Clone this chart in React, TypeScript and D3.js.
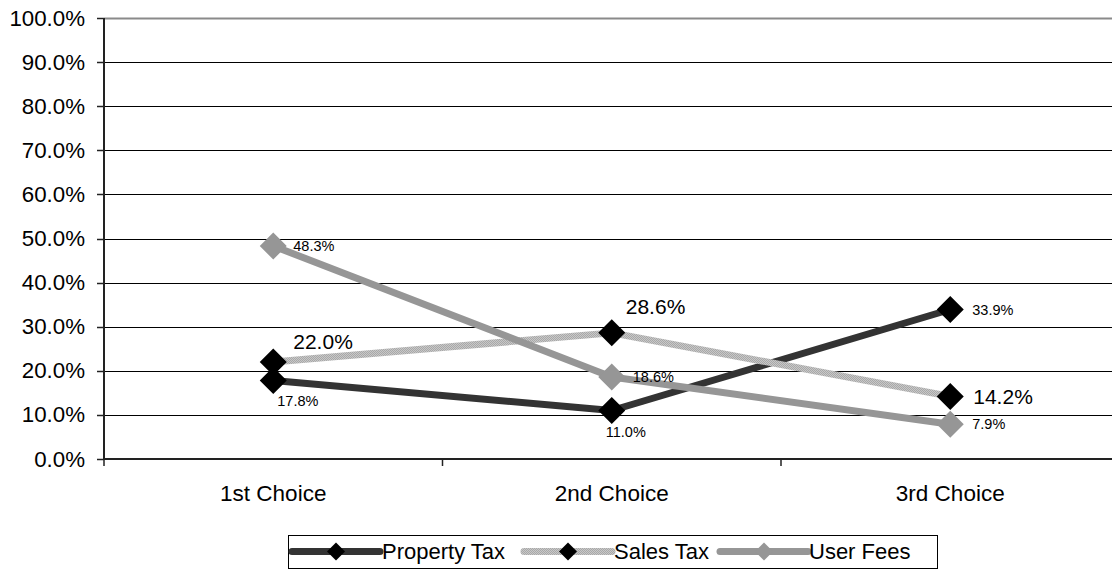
import React from "react";
import * as d3 from "d3";

const categories = ["1st Choice", "2nd Choice", "3rd Choice"];
const propertyTax = [17.8, 11.0, 33.9];
const salesTax = [22.0, 28.6, 14.2];
const userFees = [48.3, 18.6, 7.9];
const yTicks = [0, 10, 20, 30, 40, 50, 60, 70, 80, 90, 100];
const seriesNames = ["Property Tax", "Sales Tax", "User Fees"];

// label offsets relative to marker (dx = start of text, dy = vertical center)
const labelOffsets = [
  [[4, 20], [-6, 22], [22, 0]],
  [[20, -20], [14, -26], [23, 0]],
  [[20, 0], [21, 0], [22, 0]],
];

const W = 1112;
const H = 571;
const FONT = "'Liberation Sans', Arial, sans-serif";

export default function App() {
  const left = 104;
  const step = 338.5;
  const x = d3
    .scaleBand<string>()
    .domain(categories)
    .range([left, left + step * categories.length])
    .paddingInner(0)
    .paddingOuter(0);
  const y = d3.scaleLinear().domain([0, 100]).range([459, 18]);
  const cx = (c: string) => (x(c) as number) + x.bandwidth() / 2;

  const series = [
    { name: seriesNames[0], values: propertyTax, stroke: "#333333", marker: "#000000", fontSize: 14.5 },
    { name: seriesNames[1], values: salesTax, stroke: "url(#stPattern)", marker: "#000000", fontSize: 21 },
    { name: seriesNames[2], values: userFees, stroke: "#969696", marker: "#969696", fontSize: 14.5 },
  ];

  const line = d3
    .line<number>()
    .x((_, i) => cx(categories[i]))
    .y((d) => y(d));

  const diamond = (px: number, py: number, r: number) =>
    `M${px},${py - r}L${px + r},${py}L${px},${py + r}L${px - r},${py}Z`;

  const legendItems = [
    { sx: 292, tx: 382 },
    { sx: 524, tx: 614 },
    { sx: 720, tx: 809 },
  ];
  const legendY = 551.5;

  return (
    <svg width={W} height={H} style={{ position: "absolute", left: 0, top: 0, background: "#fff" }} fontFamily={FONT}>
      <defs>
        <pattern id="stPattern" patternUnits="userSpaceOnUse" width="2" height="2">
          <rect width="2" height="2" fill="#c8c8c8" />
          <rect width="1" height="1" fill="#a8a8a8" />
          <rect x="1" y="1" width="1" height="1" fill="#a8a8a8" />
        </pattern>
      </defs>
      <rect x={0} y={0} width={W} height={H} fill="#fff" />
      {/* gridlines */}
      {yTicks.slice(1).map((t) => (
        <line
          key={t}
          x1={left}
          x2={W}
          y1={Math.round(y(t)) + 0.5}
          y2={Math.round(y(t)) + 0.5}
          stroke={t === 100 ? "#8a8a8a" : "#000"}
          strokeWidth={t === 100 ? 2 : 1}
        />
      ))}
      {/* y axis */}
      <line x1={left} x2={left} y1={y(100)} y2={y(0)} stroke="#222" strokeWidth={2} />
      {yTicks.map((t) => (
        <g key={t}>
          <line x1={97} x2={left} y1={Math.round(y(t)) + 0.5} y2={Math.round(y(t)) + 0.5} stroke="#222" strokeWidth={1.5} />
          <text x={85} y={y(t)} textAnchor="end" dominantBaseline="central" fontSize={22.3} fill="#000">
            {t.toFixed(1)}%
          </text>
        </g>
      ))}
      {/* x axis */}
      <line x1={left} x2={W} y1={y(0)} y2={y(0)} stroke="#222" strokeWidth={2} />
      {categories.map((c, i) => (
        <line key={"t" + i} x1={(x(c) as number)} x2={(x(c) as number)} y1={y(0)} y2={466} stroke="#222" strokeWidth={1.5} />
      ))}
      {categories.map((c) => (
        <text key={c} x={cx(c)} y={493} textAnchor="middle" dominantBaseline="central" fontSize={22.5} fill="#000">
          {c}
        </text>
      ))}
      {/* lines */}
      {series.map((s) => (
        <path key={s.name} d={line(s.values) || ""} fill="none" stroke={s.stroke} strokeWidth={7} strokeLinejoin="round" />
      ))}
      {series.map((s) => (
        <g key={s.name + "m"}>
          {s.values.map((v, i) => (
            <path key={i} d={diamond(cx(categories[i]), y(v), 13.5)} fill={s.marker} />
          ))}
        </g>
      ))}
      {/* labels */}
      {series.map((s, si) => (
        <g key={s.name + "l"}>
          {s.values.map((v, i) => (
            <text
              key={i}
              x={cx(categories[i]) + labelOffsets[si][i][0]}
              y={y(v) + labelOffsets[si][i][1]}
              dominantBaseline="central"
              fontSize={s.fontSize}
              fill="#000"
            >
              {v.toFixed(1)}%
            </text>
          ))}
        </g>
      ))}
      {/* legend */}
      <rect x={288.5} y={535.5} width={649} height={33} fill="#fff" stroke="#000" strokeWidth={1} />
      {series.map((s, i) => (
        <g key={s.name + "leg"}>
          <line
            x1={legendItems[i].sx}
            x2={legendItems[i].sx + 88}
            y1={legendY}
            y2={legendY}
            stroke={s.stroke}
            strokeWidth={7}
            strokeLinecap="round"
          />
          <path d={diamond(legendItems[i].sx + 44, legendY, 9)} fill={s.marker} />
          <text x={legendItems[i].tx} y={legendY} dominantBaseline="central" fontSize={22} fill="#000">
            {s.name}
          </text>
        </g>
      ))}
    </svg>
  );
}
